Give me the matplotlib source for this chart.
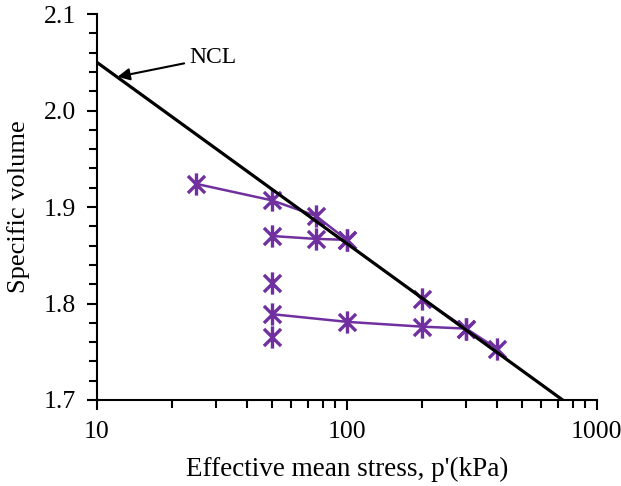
import matplotlib
matplotlib.use("Agg")
import matplotlib.pyplot as plt
from matplotlib.path import Path
from matplotlib.ticker import LogLocator, FixedLocator, MultipleLocator, NullFormatter, FuncFormatter

plt.rcParams['font.family'] = ['Liberation Serif', 'DejaVu Serif']

# NCL
ncl_p = [10, 730]
ncl_v = [2.05, 1.70]

# test paths
s1_p = [25, 50, 75, 100]
s1_v = [1.924, 1.907, 1.891, 1.866]
s2_p = [50, 75, 100]
s2_v = [1.870, 1.867, 1.866]
s3_p = [50, 100, 200, 300, 400]
s3_v = [1.789, 1.781, 1.776, 1.774, 1.753]
s4_p = [200, 300]
s4_v = [1.805, 1.774]
single_p = [50, 50]
single_v = [1.821, 1.765]

purple = '#7030A0'

# Excel-like star marker: X plus vertical bar
star = Path([(-1, -1), (1, 1), (-1, 1), (1, -1), (0, -1.3), (0, 1.3)],
            [Path.MOVETO, Path.LINETO, Path.MOVETO, Path.LINETO, Path.MOVETO, Path.LINETO])

fig = plt.figure(figsize=(6.21, 4.86), dpi=100)
ax = fig.add_axes([0.156, 0.177, 0.805, 0.794])

ax.plot(ncl_p, ncl_v, color='black', lw=2.3, zorder=3)
mk = dict(marker=star, markersize=16, markeredgewidth=2.4, markeredgecolor=purple,
          markerfacecolor='none', color=purple, lw=1.8)
for p, v in [(s1_p, s1_v), (s2_p, s2_v), (s3_p, s3_v), (s4_p, s4_v)]:
    ax.plot(p, v, zorder=2, **mk)
ax.plot(single_p, single_v, linestyle='none', zorder=2, **mk)

ax.annotate('NCL', xy=(12.1, 2.035), xytext=(23.5, 2.055), fontsize=17,
            va='center', ha='left',
            arrowprops=dict(arrowstyle='-|>', color='black', lw=1.5,
                            mutation_scale=18, shrinkA=2, shrinkB=0))

ax.set_xscale('log')
ax.set_xlim(10, 1000)
ax.set_ylim(1.7, 2.1)
ax.xaxis.set_major_locator(FixedLocator([10, 100, 1000]))
ax.xaxis.set_major_formatter(FuncFormatter(lambda x, pos: f'{int(round(x))}'))
ax.xaxis.set_minor_locator(LogLocator(base=10, subs=range(2, 10)))
ax.xaxis.set_minor_formatter(NullFormatter())
ax.yaxis.set_major_locator(MultipleLocator(0.1))
ax.yaxis.set_major_formatter(FuncFormatter(lambda y, pos: f'{y:.1f}'))
ax.yaxis.set_minor_locator(MultipleLocator(0.02))

for s in ['top', 'right']:
    ax.spines[s].set_visible(False)
for s in ['left', 'bottom']:
    ax.spines[s].set_linewidth(1.5)

ax.tick_params(axis='both', which='major', direction='out', length=7, width=1.5,
               labelsize=18.5, pad=8)
ax.tick_params(axis='both', which='minor', direction='out', length=6, width=1.5)

ax.set_xlabel("Effective mean stress, p'(kPa)", fontsize=19.5, labelpad=10)
ax.set_ylabel('Specific volume', fontsize=19, labelpad=10)

fig.savefig('out.png', dpi=100)
